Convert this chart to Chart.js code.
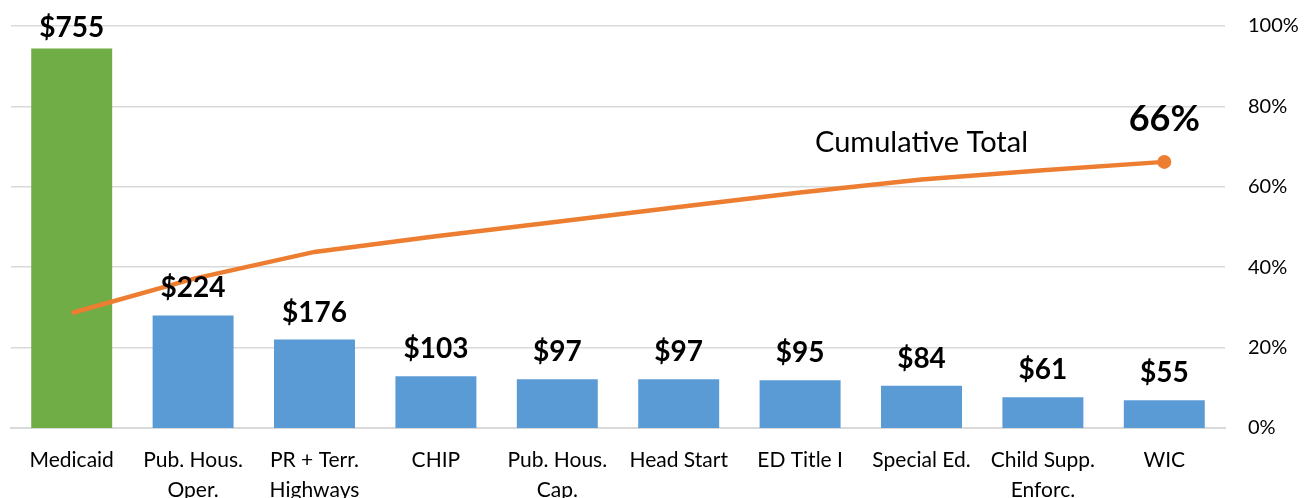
<!DOCTYPE html>
<html>
<head>
<meta charset="utf-8">
<script src="https://cdn.jsdelivr.net/npm/chart.js@4"></script>
<style>
  html, body { margin: 0; padding: 0; background: #fff; }
  #wrap { width: 1314px; height: 498px; }
</style>
</head>
<body>
<div id="wrap"><canvas id="paretoChart"></canvas></div>
<script>
// 資料
const categories = ['Medicaid', ['Pub. Hous.', 'Oper.'], ['PR + Terr.', 'Highways'], 'CHIP',
    ['Pub. Hous.', 'Cap.'], 'Head Start', 'ED Title I', 'Special Ed.', ['Child Supp.', 'Enforc.'], 'WIC'];
const amounts = [755, 224, 176, 103, 97, 97, 95, 84, 61, 55];
const cumulativePct = [28.6, 37.1, 43.8, 47.7, 51.3, 55.0, 58.6, 61.8, 64.1, 66.2];
const pctTicks = [0, 20, 40, 60, 80, 100];
const lineLabel = 'Cumulative Total';
const endLabel = '66%';

const FONT = 'Lato, "Noto Sans", sans-serif';
const barColors = amounts.map((v, i) => i === 0 ? '#70AD47' : '#5B9BD5');

// 柱狀圖數值標籤與註解
const labelPlugin = {
    id: 'labelPlugin',
    afterDatasetsDraw(chart) {
        const ctx = chart.ctx;
        const barMeta = chart.getDatasetMeta(0);
        ctx.save();
        ctx.fillStyle = '#000';
        ctx.textAlign = 'center';
        ctx.textBaseline = 'alphabetic';
        ctx.font = 'bold 28px ' + FONT;
        barMeta.data.forEach((bar, i) => {
            const y = Math.max(bar.y - 18, 37);
            ctx.fillText('$' + amounts[i], bar.x, y);
        });

        const lineMeta = chart.getDatasetMeta(1);
        const last = lineMeta.data[lineMeta.data.length - 1];
        ctx.font = 'bold 36px ' + FONT;
        ctx.textBaseline = 'middle';
        ctx.fillText(endLabel, last.x, last.y - 42);

        ctx.font = '29px ' + FONT;
        const xs = chart.scales.x;
        const ys = chart.scales.y1;
        ctx.fillText(lineLabel, xs.getPixelForValue(7), ys.getPixelForValue(70.9));
        ctx.restore();
    }
};

new Chart(document.getElementById('paretoChart'), {
    data: {
        labels: categories,
        datasets: [{
            type: 'bar',
            data: amounts,
            backgroundColor: barColors,
            yAxisID: 'y',
            barPercentage: 0.667,
            categoryPercentage: 1.0,
            order: 2
        }, {
            type: 'line',
            data: cumulativePct,
            yAxisID: 'y1',
            borderColor: '#ED7D31',
            borderWidth: 4.5,
            tension: 0,
            pointRadius: cumulativePct.map((v, i) => i === cumulativePct.length - 1 ? 7 : 0),
            pointBackgroundColor: '#ED7D31',
            pointBorderWidth: 0,
            order: 1
        }]
    },
    options: {
        responsive: true,
        maintainAspectRatio: false,
        animation: false,
        layout: { padding: { left: 11, right: 0, top: 26, bottom: 0 } },
        plugins: {
            legend: { display: false },
            tooltip: { enabled: false }
        },
        scales: {
            x: {
                grid: { display: false, drawTicks: false },
                border: { display: true, color: '#D9D9D9', width: 2 },
                afterFit(axis) { axis.height = 70; },
                ticks: {
                    color: '#000',
                    font: { family: FONT, size: 21, lineHeight: 1.45 },
                    padding: 17,
                    maxRotation: 0,
                    autoSkip: false
                }
            },
            y: {
                display: false,
                min: 0,
                max: 800
            },
            y1: {
                position: 'right',
                min: 0,
                max: 100,
                afterBuildTicks(axis) {
                    axis.ticks = pctTicks.map(v => ({ value: v }));
                },
                afterFit(axis) {
                    axis.width = 89;
                    axis.paddingTop = 0;
                    axis.paddingBottom = 0;
                },
                grid: { color: '#D9D9D9', lineWidth: 1.5, drawTicks: false },
                border: { display: false },
                ticks: {
                    color: '#000',
                    font: { family: FONT, size: 20 },
                    padding: 23,
                    callback: v => v + '%'
                }
            }
        }
    },
    plugins: [labelPlugin]
});
</script>
</body>
</html>
